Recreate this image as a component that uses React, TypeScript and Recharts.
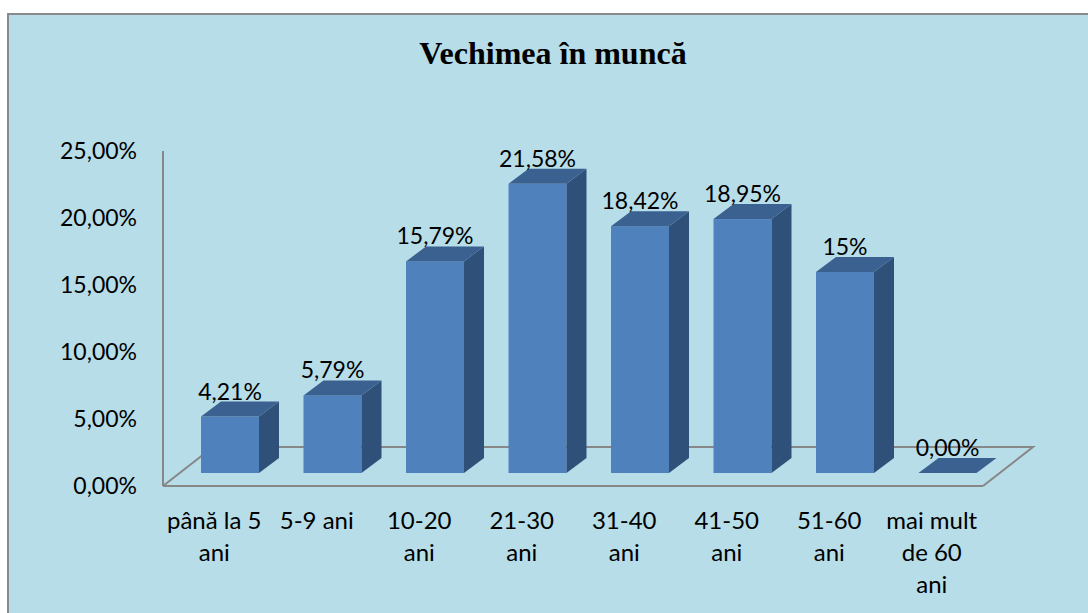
import { BarChart, Bar, XAxis, YAxis } from "recharts";

const categories = [
  "până la 5 ani",
  "5-9 ani",
  "10-20 ani",
  "21-30 ani",
  "31-40 ani",
  "41-50 ani",
  "51-60 ani",
  "mai mult de 60 ani",
];
const categoryLines = [
  ["până la 5", "ani"],
  ["5-9 ani"],
  ["10-20", "ani"],
  ["21-30", "ani"],
  ["31-40", "ani"],
  ["41-50", "ani"],
  ["51-60", "ani"],
  ["mai mult", "de 60", "ani"],
];
const shares = [4.21, 5.79, 15.79, 21.58, 18.42, 18.95, 15, 0];
const shareLabels = ["4,21%", "5,79%", "15,79%", "21,58%", "18,42%", "18,95%", "15%", "0,00%"];
const yTicks = [0, 5, 10, 15, 20, 25];

const data = categories.map((name, i) => ({
  name,
  value: shares[i],
  label: shareLabels[i],
}));

// layout (wrapper coords)
const W = 1081;
const H = 600;
const PLOT_LEFT = 156;
const PLOT_RIGHT = 976;
const PLOT_TOP = 138;
const PLOT_BOTTOM = 473;
const FLOOR_DX = 50;
const FLOOR_DY = 39;
const SHIFT_X = 16;
const SHIFT_Y = 13;
const DEPTH_X = 20;
const DEPTH_Y = 15;

const FONT = "Lato, 'Open Sans', sans-serif";
const GRID = "#878787";

function Bar3D(props: any) {
  const { x, y, width, height, payload } = props;
  const fx = x + SHIFT_X;
  const fy = y - SHIFT_Y;
  const h = Math.max(0, height);
  return (
    <g>
      {h > 0 && <rect x={fx} y={fy} width={width} height={h} fill="#4F81BD" />}
      {h > 0 && (
        <polygon
          points={`${fx + width},${fy} ${fx + width + DEPTH_X},${fy - DEPTH_Y} ${fx + width + DEPTH_X},${fy + h - DEPTH_Y} ${fx + width},${fy + h}`}
          fill="#2F5179"
        />
      )}
      <polygon
        points={`${fx},${fy} ${fx + DEPTH_X},${fy - DEPTH_Y} ${fx + width + DEPTH_X},${fy - DEPTH_Y} ${fx + width},${fy}`}
        fill="#3A6190"
      />
      <text
        x={fx + width / 2}
        y={fy - 26}
        textAnchor="middle"
        dominantBaseline="central"
        fontFamily={FONT}
        fontSize={23}
        fill="#000"
      >
        {payload.label}
      </text>
    </g>
  );
}

function CategoryTick(props: any) {
  const { x, y, payload, index } = props;
  const i = typeof index === "number" ? index : categories.indexOf(payload.value);
  const lines = categoryLines[i] || [payload.value];
  return (
    <text x={x} y={y} textAnchor="middle" fontFamily={FONT} fontSize={24} fill="#000">
      {lines.map((ln, k) => (
        <tspan key={k} x={x} y={y + 41 + k * 32}>
          {ln}
        </tspan>
      ))}
    </text>
  );
}

const fmt = (v: number) => v.toFixed(2).replace(".", ",") + "%";

export default function App() {
  return (
    <div
      style={{
        position: "absolute",
        left: 7,
        top: 13,
        width: W,
        height: H,
        boxSizing: "border-box",
        background: "#B7DDE8",
        borderLeft: "2px solid #8a8a8a",
        borderTop: "2px solid #8a8a8a",
        overflow: "hidden",
      }}
    >
      <svg
        width={W}
        height={H}
        style={{ position: "absolute", left: -2, top: -2 }}
      >
        <text
          x={546}
          y={51}
          textAnchor="middle"
          fontFamily="'Liberation Serif', 'Times New Roman', serif"
          fontWeight="bold"
          fontSize={32}
          fill="#000"
        >
          Vechimea în muncă
        </text>
        <polyline
          points={`${PLOT_LEFT},${PLOT_BOTTOM} ${PLOT_LEFT + FLOOR_DX},${PLOT_BOTTOM - FLOOR_DY} ${PLOT_RIGHT + FLOOR_DX},${PLOT_BOTTOM - FLOOR_DY} ${PLOT_RIGHT},${PLOT_BOTTOM}`}
          fill="none"
          stroke={GRID}
          strokeWidth={2}
        />
      </svg>
      <div style={{ position: "absolute", left: -2, top: -2 }}>
        <BarChart
          width={W}
          height={H}
          data={data}
          barSize={58}
          margin={{ top: PLOT_TOP, right: W - PLOT_RIGHT, bottom: 17, left: 0 }}
        >
          <XAxis
            dataKey="name"
            interval={0}
            tickLine={false}
            tickSize={0}
            axisLine={{ stroke: GRID, strokeWidth: 2 }}
            height={H - PLOT_BOTTOM - 17}
            tick={<CategoryTick />}
          />
          <YAxis
            width={PLOT_LEFT}
            domain={[0, 25]}
            ticks={yTicks}
            tickFormatter={fmt}
            tickLine={false}
            tickSize={0}
            tickMargin={26}
            axisLine={{ stroke: GRID, strokeWidth: 2 }}
            tick={{ fontFamily: FONT, fontSize: 23, fill: "#000" }}
            interval={0}
          />
          <Bar dataKey="value" shape={<Bar3D />} isAnimationActive={false} />
        </BarChart>
      </div>
    </div>
  );
}
